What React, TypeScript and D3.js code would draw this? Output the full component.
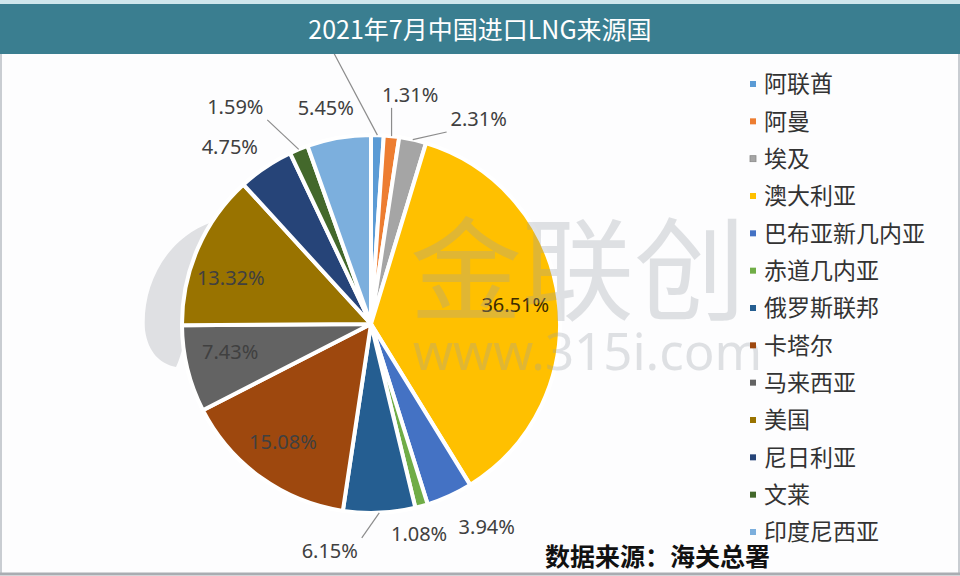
import React from 'react'
import * as d3 from 'd3'

// 2021年7月中国进口LNG来源国 (share, %)
const countries = ['阿联酋', '阿曼', '埃及', '澳大利亚', '巴布亚新几内亚', '赤道几内亚', '俄罗斯联邦', '卡塔尔', '马来西亚', '美国', '尼日利亚', '文莱', '印度尼西亚']
const shares = [1.08, 1.31, 2.31, 36.51, 3.94, 1.08, 6.15, 15.08, 7.43, 13.32, 4.75, 1.59, 5.45]
const palette = ['#5B9BD5', '#ED7D31', '#A5A5A5', '#FFC000', '#4472C4', '#70AD47', '#255E91', '#9E480E', '#636363', '#997300', '#264478', '#43682B', '#7CAFDD']

// label placement (Excel labels were dragged by hand): angle in degrees from 12 o'clock, radius as a multiple of r
const labelAngle = [-14, 9.7, 27.7, 82.4, 150.3, 167.1, 190.3, 216.7, 258.7, 288, 321.5, 328, 348.2]
const labelRadius = [1.58, 1.23, 1.225, 0.77, 1.236, 1.14, 1.22, 0.78, 0.76, 0.78, 1.2, 1.355, 1.17]
const hasLeader = [true, true, true, false, false, false, true, false, false, false, false, true, false]
// the 阿联酋 label sits under the title bar in the original, only its leader shows
const labelShown = [false, true, true, true, true, true, true, true, true, true, true, true, true]

const W = 960
const H = 576
const cx = 371
const cy = 324
const r = 189

export default function App() {
  const pie = d3.pie<number>().sort(null).value(d => d)
  const arcs = pie(shares)
  const arc = d3.arc<d3.PieArcDatum<number>>().innerRadius(0).outerRadius(r)
  const legendY = d3.scaleLinear().domain([0, countries.length - 1]).range([84, 532])
  const fmt = (v: number) => v.toFixed(2) + '%'
  const font = "'Noto Sans', 'Noto Sans CJK SC', sans-serif"
  const cjk = "'Noto Sans CJK SC', sans-serif"

  const labels = arcs.map((a, i) => {
    const ang = (labelAngle[i] * Math.PI) / 180
    const rad = labelRadius[i] * r
    const lx = Math.sin(ang) * rad
    const ly = -Math.cos(ang) * rad
    const mid = (a.startAngle + a.endAngle) / 2
    const sx = Math.sin(mid) * r
    const sy = -Math.cos(mid) * r
    const w = 58
    const h = 24
    const x0 = lx - w / 2 - 3
    const x1 = lx + w / 2 + 3
    const y0 = ly - h / 2 - 1
    const y1 = ly + h / 2 + 1
    const ex = Math.max(x0, Math.min(x1, sx))
    const ey = Math.max(y0, Math.min(y1, sy))
    return { i, lx, ly, sx, sy, ex, ey }
  })

  return (
    <svg width={W} height={H} style={{ position: 'absolute', left: 0, top: 0, background: '#fdfdfe' }}>
      <rect x={0} y={0} width={W} height={H} fill="#fdfdfe" />
      <rect x={1} y={1} width={W - 2} height={H - 3} fill="none" stroke="#c9cdd2" strokeWidth={2} />
      <line x1={0} x2={W} y1={574} y2={574} stroke="#a9adb2" strokeWidth={3} />

      {/* watermark logo crescent */}
      <path d="M212,222 C162,240 142,290 145,330 C148,352 160,364 176,367 C190,340 192,260 212,222 Z" fill="#dfe0e3" />

      <g transform={`translate(${cx},${cy})`}>
        {arcs.map((a, i) => (
          <path key={countries[i]} d={arc(a) || ''} fill={palette[i]} stroke="#ffffff" strokeWidth={4} strokeLinejoin="round" />
        ))}
        {labels.filter(l => hasLeader[l.i]).map(l => (
          <line key={'ld' + l.i} x1={l.sx} y1={l.sy} x2={l.ex} y2={l.ey} stroke="#8c8c8c" strokeWidth={1.2} />
        ))}
        {labels.filter(l => labelShown[l.i]).map(l => (
          <text key={'lb' + l.i} x={l.lx} y={l.ly} dy="0.35em" textAnchor="middle" fontFamily={font} fontSize={20}
            fill={l.i === 3 ? '#3d2b00' : '#404040'}>
            {fmt(shares[l.i])}
          </text>
        ))}
      </g>

      {/* watermark text */}
      <g fill="#9aa0a8" opacity={0.3} fontFamily={cjk}>
        <text x={410} y={312} fontSize={112}>金联创</text>
        <text x={413} y={370} fontSize={51} fontFamily="'Noto Sans', sans-serif">www.315i.com</text>
      </g>

      {/* title bar */}
      <rect x={0} y={0} width={W} height={4} fill="#cfe6ec" />
      <rect x={0} y={4} width={W} height={50} fill="#3a7e90" />
      <text x={480} y={30} dy="0.36em" textAnchor="middle" fontFamily={cjk} fontSize={25} fill="#ffffff">
        2021年7月中国进口LNG来源国
      </text>

      {/* legend */}
      {countries.map((c, i) => (
        <g key={'lg' + c} transform={`translate(750,${legendY(i)})`}>
          <rect x={0} y={-3} width={6} height={6} fill={palette[i]} stroke={i === 2 ? '#8a8a8a' : 'none'} strokeWidth={0.8} />
          <text x={14} y={0} dy="0.36em" fontFamily={cjk} fontSize={23} fill="#333333">{c}</text>
        </g>
      ))}

      <text x={545} y={566} fontFamily={cjk} fontSize={25} fontWeight="bold" fill="#111111">数据来源：海关总署</text>
    </svg>
  )
}
